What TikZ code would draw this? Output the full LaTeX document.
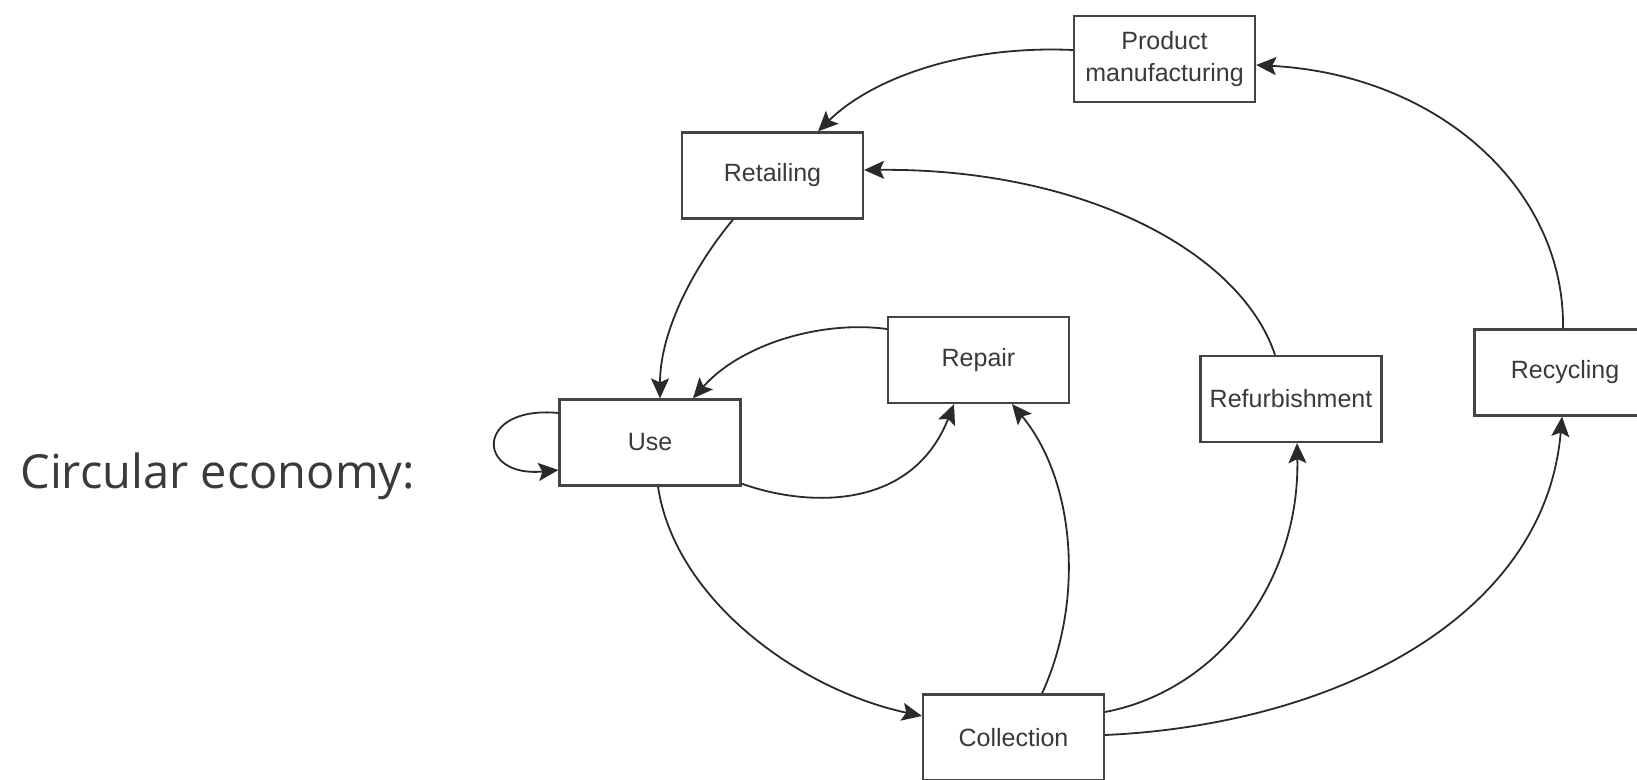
\documentclass[tikz,border=0pt]{standalone}
\usepackage{fontspec}
\setmainfont{Liberation Sans}
\newfontfamily\titlefont{Open Sans}
\usetikzlibrary{arrows.meta,calc}
\definecolor{boxline}{HTML}{444444}
\definecolor{edgeline}{HTML}{2A2A2A}
\definecolor{txt}{HTML}{3A3A3A}
\tikzset{
  stagebox/.style={draw=boxline, line width=1.1pt, fill=white, minimum width=90.5pt, minimum height=43pt, inner sep=0pt, align=center, text=txt, font=\fontsize{12.5}{16}\selectfont},
  flow/.style={draw=edgeline, line width=0.9pt, -{Stealth[length=10pt,width=9pt,inset=2pt]}},
  titletext/.style={text=txt, inner sep=0pt, font=\titlefont\fontsize{23.5}{28}\selectfont}
}
\begin{document}
\begin{tikzpicture}[x=0.5pt,y=-0.5pt]
\useasboundingbox (0,0) rectangle (1637,780);
\node[titletext, anchor=base west] (title) at (20,488) {Circular economy:};
\node[stagebox] (prod) at (1164.5,59) {Product\\manufacturing};
\node[stagebox] (retail) at (772.5,175.5) {Retailing};
\node[stagebox] (use) at (650,442.5) {Use};
\node[stagebox] (repair) at (978.5,360) {Repair};
\node[stagebox] (refurb) at (1291,399) {Refurbishment};
\node[stagebox] (recyc) at (1565,372.5) {Recycling};
\node[stagebox] (coll) at (1013.5,737.5) {Collection};
% Product manufacturing -> Retailing
\draw[flow] ([yshift=4.5pt]prod.west) .. controls (960,45) and (870,80) .. ([xshift=22.75pt]retail.north);
% Retailing -> Use
\draw[flow] ([xshift=-19.75pt]retail.south) .. controls (695,265) and (660,330) .. ([xshift=5pt]use.north);
% Repair -> Use
\draw[flow] ([yshift=15.5pt]repair.west) .. controls (820,320) and (740,345) .. ([xshift=21.5pt]use.north);
% Use -> Use (self loop)
\draw[flow] ([yshift=14.75pt]use.west) .. controls (475,405) and (475,478) .. ([yshift=-13.75pt]use.west);
% Use -> Repair
\draw[flow] ([yshift=1.5pt]use.south east) .. controls (800,505) and (910,515) .. ([xshift=-12.25pt]repair.south);
% Use -> Collection
\draw[flow] ([xshift=4pt]use.south) .. controls (675,600) and (800,690) .. ([yshift=10.75pt]coll.west);
% Collection -> Repair
\draw[flow] ([xshift=14.25pt]coll.north) .. controls (1085,600) and (1075,480) .. ([xshift=16.75pt]repair.south);
% Collection -> Refurbishment
\draw[flow] ([yshift=12.75pt]coll.east) .. controls (1220,690) and (1300,580) .. ([xshift=3pt]refurb.south);
% Collection -> Recycling
\draw[flow] ([yshift=1.25pt]coll.east) .. controls (1330,725) and (1545,620) .. ([xshift=-1.5pt]recyc.south);
% Refurbishment -> Retailing
\draw[flow] ([xshift=-8pt]refurb.north) .. controls (1240,250) and (1080,168) .. ([yshift=2.75pt]retail.east);
% Recycling -> Product manufacturing
\draw[flow] ([xshift=-1pt]recyc.north) .. controls (1565,190) and (1440,75) .. ([yshift=-3pt]prod.east);
\end{tikzpicture}
\end{document}
